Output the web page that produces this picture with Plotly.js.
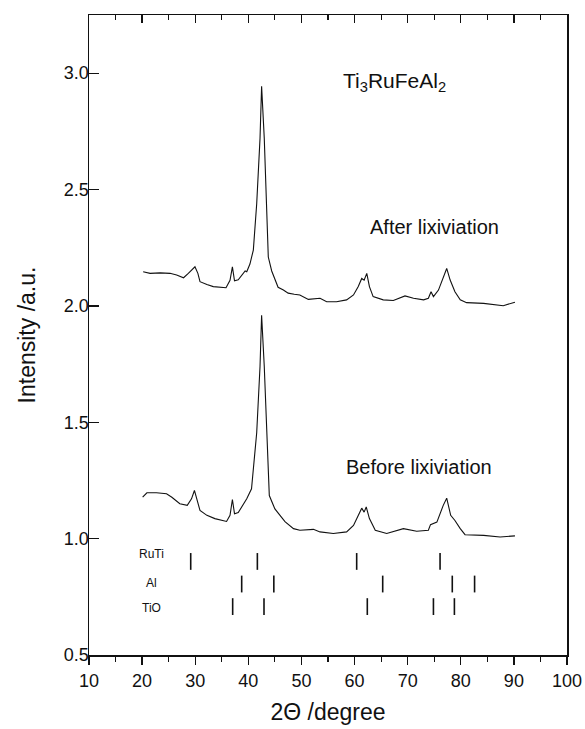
<!DOCTYPE html>
<html>
<head>
<meta charset="utf-8">
<script src="https://cdn.plot.ly/plotly-3.0.1.min.js"></script>
<style>html,body{margin:0;padding:0;background:#fff}#chart{width:585px;height:729px}</style>
</head>
<body>
<div id="chart"></div>
<script>
// After lixiviation pattern
const afterX = [20.2,21.5,23.4,25.25,26.5,27.8,28.7,29.95,30.5,30.9,32.2,33.4,35.8,36.55,37.0,37.4,38.1,38.75,39.4,39.7,40.3,40.94,41.58,42.2,42.5,43.0,43.45,43.76,44.4,45.6,46.6,47.5,48.65,49.7,51.3,53.5,54.75,56.6,58.5,59.8,60.7,61.35,61.8,62.3,62.8,63.5,65.4,67.3,69.5,71.1,73.0,73.9,74.4,74.85,75.8,76.7,77.35,78.0,78.9,79.9,81.1,84.3,86.1,88.0,90.2];
const afterY = [2.147,2.14,2.142,2.14,2.133,2.121,2.14,2.168,2.14,2.104,2.092,2.083,2.078,2.11,2.168,2.108,2.112,2.133,2.15,2.147,2.18,2.24,2.44,2.72,2.944,2.72,2.44,2.21,2.15,2.08,2.068,2.055,2.05,2.047,2.028,2.033,2.018,2.018,2.026,2.047,2.083,2.118,2.111,2.14,2.083,2.04,2.026,2.023,2.043,2.033,2.026,2.033,2.061,2.04,2.068,2.125,2.161,2.111,2.061,2.026,2.014,2.011,2.007,2.001,2.016];
// Before lixiviation pattern
const beforeX = [20.1,20.9,22.7,24.6,25.6,27.1,28.5,29.3,29.85,30.4,30.9,32.2,33.7,35.9,36.55,37.0,37.4,38.1,38.75,39.7,40.6,41.58,42.2,42.5,43.0,43.45,43.95,45.0,46.9,48.5,49.7,52.25,53.5,56.0,58.5,59.8,60.7,61.35,61.8,62.2,62.8,63.9,66.05,69.2,71.7,73.9,74.3,75.5,76.7,77.35,78.1,78.9,79.9,80.8,84.3,87.4,90.2];
const beforeY = [1.178,1.197,1.197,1.193,1.178,1.15,1.143,1.171,1.207,1.157,1.121,1.10,1.086,1.074,1.10,1.168,1.107,1.112,1.136,1.171,1.214,1.456,1.74,1.96,1.74,1.456,1.185,1.128,1.073,1.043,1.036,1.04,1.029,1.022,1.029,1.057,1.10,1.131,1.114,1.136,1.086,1.036,1.022,1.043,1.032,1.036,1.06,1.071,1.143,1.174,1.10,1.078,1.043,1.017,1.014,1.007,1.012];
// Reference peak positions
const ruTiPeaks = [29.15,41.7,60.4,76.1];
const alPeaks = [38.75,44.8,65.3,78.4,82.6];
const tiOPeaks = [37.05,42.95,62.4,74.85,78.8];
const phaseNames = ['RuTi','Al','TiO'];
const xTicks = [10,20,30,40,50,60,70,80,90,100];
const yTicks = [0.5,1.0,1.5,2.0,2.5,3.0];

const rowLevels = [0.902,0.805,0.708];
const labelLevels = [0.936,0.81,0.70];
const phasePeaks = [ruTiPeaks, alPeaks, tiOPeaks];

const ink = '#111';
const lineStyle = {color:ink, width:1.1};
const traces = [
  {x:afterX, y:afterY, mode:'lines', line:lineStyle, hoverinfo:'skip'},
  {x:beforeX, y:beforeY, mode:'lines', line:lineStyle, hoverinfo:'skip'}
];
phasePeaks.forEach((pk,i)=>{
  traces.push({x:pk, y:pk.map(()=>rowLevels[i]), mode:'markers',
    marker:{symbol:'line-ns-open', size:12, color:ink, line:{color:ink, width:1.6}}, hoverinfo:'skip'});
});
traces.push({x:[10,100], y:[0.5,0.5], xaxis:'x2', mode:'lines', line:{width:0, color:'rgba(0,0,0,0)'}, hoverinfo:'skip'});

const font = {family:'"Liberation Sans", Arial, sans-serif', color:ink};
const annotations = [
  {x:67.5, y:2.96, text:'Ti<sub>3</sub>RuFeAl<sub>2</sub>', showarrow:false, font:{...font, size:21}},
  {x:75.0, y:2.34, text:'After lixiviation', showarrow:false, font:{...font, size:20}},
  {x:72.1, y:1.306, text:'Before lixiviation', showarrow:false, font:{...font, size:20}}
];
phaseNames.forEach((n,i)=>{
  annotations.push({x:21.7, y:labelLevels[i], text:n, showarrow:false, font:{...font, size:12}});
});

const layout = {
  width:585, height:729,
  margin:{l:89, r:18, t:15, b:74},
  paper_bgcolor:'#fff', plot_bgcolor:'#fff',
  showlegend:false,
  font:font,
  xaxis:{range:[10,100], tickvals:xTicks, ticktext:xTicks.map(String), ticks:'outside', ticklen:8, tickwidth:1.3,
    tickcolor:ink, showline:true, linecolor:ink, linewidth:1.5, showgrid:false, zeroline:false,
    ticklabelstandoff:1,
    minor:{dtick:5, tick0:5, ticks:'outside', ticklen:5, tickwidth:1.2, tickcolor:ink, showgrid:false},
    tickfont:{...font, size:18},
    title:{text:'2Θ /degree', font:{...font, size:23}, standoff:14}},
  xaxis2:{range:[10,100], overlaying:'x', side:'top', showticklabels:false, ticks:'inside', ticklen:8, tickwidth:1.3,
    tickcolor:ink, dtick:10, tick0:10, showline:true, linecolor:ink, linewidth:1.5, showgrid:false, zeroline:false,
    minor:{dtick:5, tick0:5, ticks:'inside', ticklen:5, tickwidth:1.2, tickcolor:ink}},
  yaxis:{range:[0.5,3.25], tickvals:yTicks, ticktext:yTicks.map(v=>v.toFixed(1)), ticks:'inside', ticklen:10, tickwidth:1.3,
    tickcolor:ink, showline:true, mirror:true, linecolor:ink, linewidth:1.5, showgrid:false, zeroline:false,
    ticklabelstandoff:-5,
    tickfont:{...font, size:18},
    title:{text:'Intensity /a.u.', font:{...font, size:23}, standoff:22}},
  annotations:annotations
};
Plotly.newPlot('chart', traces, layout, {staticPlot:true, displayModeBar:false});
</script>
</body>
</html>
